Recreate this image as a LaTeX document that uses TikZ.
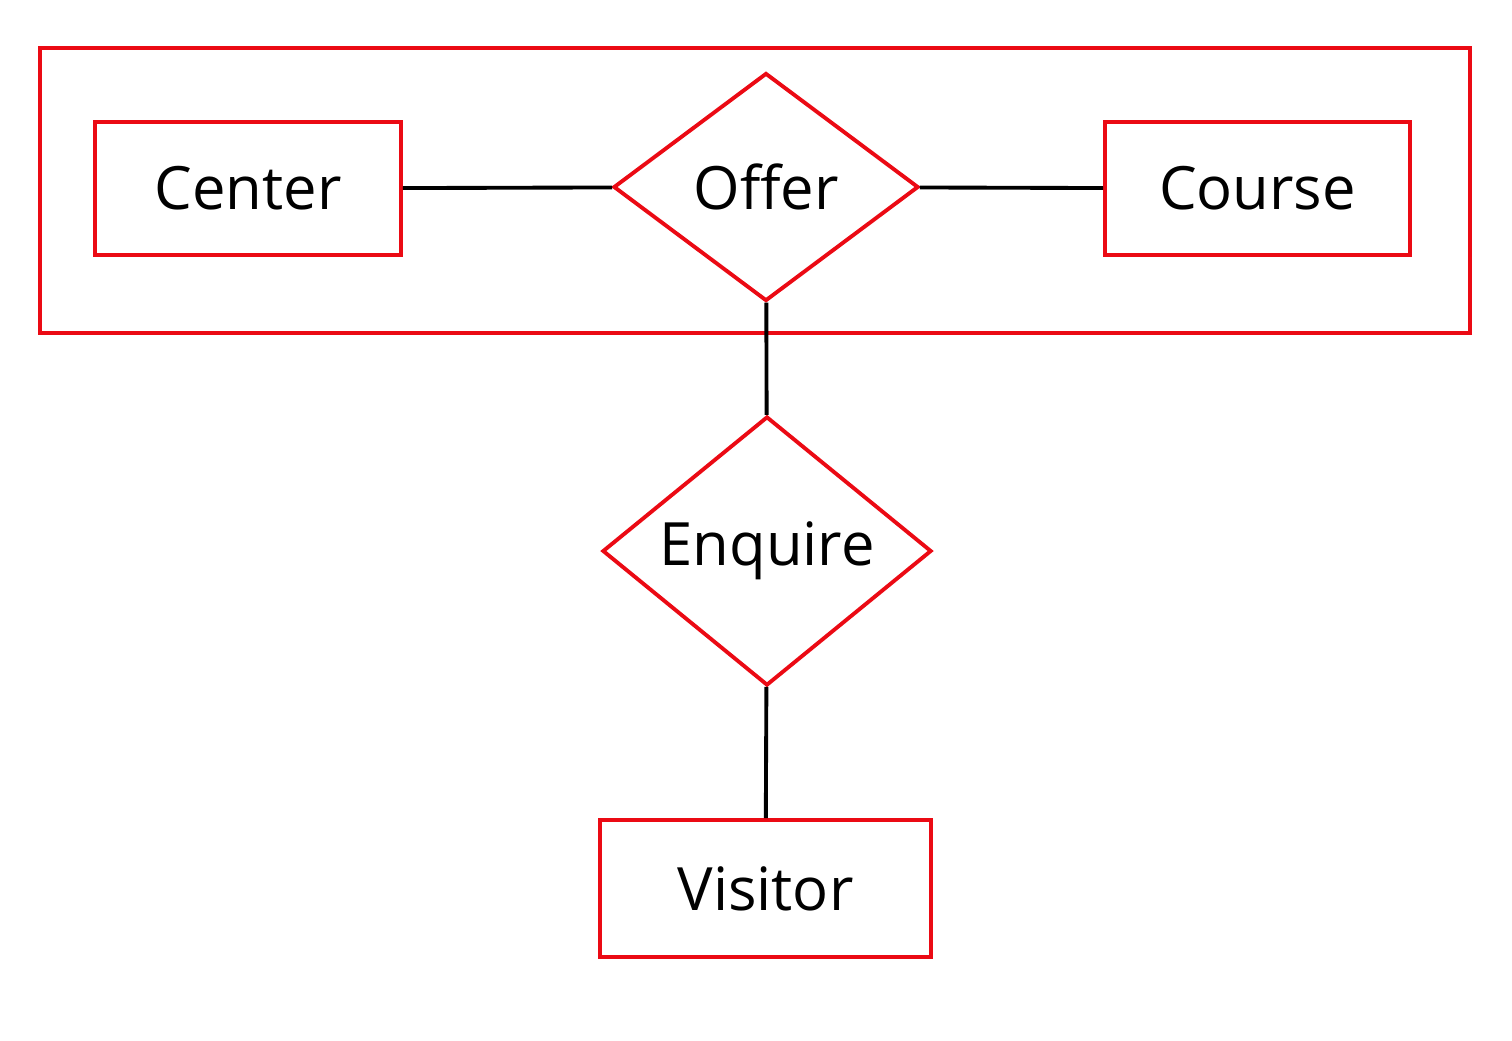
\documentclass[tikz,border=0pt]{standalone}
\usepackage{fontspec}
\setmainfont{Open Sans}
\usetikzlibrary{shapes.geometric}
\definecolor{erred}{RGB}{235,10,20}
\tikzset{
  entity/.style={draw=erred, line width=2.2pt, rectangle, inner sep=0pt, font=\fontsize{34}{40}\selectfont},
  relation/.style={draw=erred, line width=2.2pt, diamond, inner sep=0pt},
  rlabel/.style={font=\fontsize{34}{40}\selectfont},
  link/.style={draw=black, line width=2.2pt}
}
\begin{document}
\begin{tikzpicture}
    \useasboundingbox (0,0) rectangle (30.24,-20.8);
    % aggregation box
    \draw[draw=erred, line width=2.2pt] (0.8,-0.96) rectangle (29.4,-6.66);

    \node[entity, minimum width=6.12cm, minimum height=2.66cm] (center) at (4.96,-3.77) {Center};
    \node[entity, minimum width=6.1cm, minimum height=2.66cm] (course) at (25.15,-3.77) {Course};
    \node[relation, minimum width=6.1cm, minimum height=4.56cm] (offer) at (15.32,-3.74) {};
    \node[rlabel] at (offer.center) {Offer};
    \node[relation, minimum width=6.58cm, minimum height=5.38cm] (enquire) at (15.34,-11.02) {};
    \node[rlabel] at (enquire.center) {Enquire};
    \node[entity, minimum width=6.62cm, minimum height=2.74cm] (visitor) at (15.31,-17.77) {Visitor};

    \draw[link] (center) -- (offer);
    \draw[link] (offer) -- (course);
    \draw[link] (offer) -- (enquire);
    \draw[link] (enquire) -- (visitor);
\end{tikzpicture}
\end{document}
